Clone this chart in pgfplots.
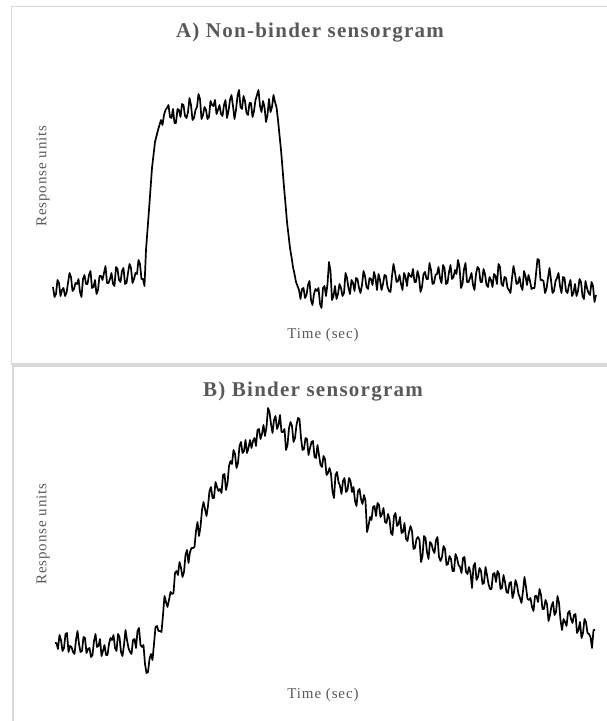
\documentclass[border=0pt]{standalone}
\usepackage{fontspec}
\setmainfont{Liberation Serif}[LetterSpace=6]
\usepackage{pgfplots}
\pgfplotsset{compat=1.18}
\definecolor{titlegray}{HTML}{595959}
\definecolor{framegray}{HTML}{D9D9D9}
\newcommand\titlefont{\bfseries\fontsize{21}{24}\selectfont}
\newcommand\labelfont{\fontsize{15}{18}\selectfont}
\begin{document}
\begin{tikzpicture}
\path[use as bounding box] (0pt,0pt) rectangle (607pt,721pt);
% ---------------- Panel A ----------------
\begin{axis}[at={(0pt,357pt)}, anchor=south west, scale only axis,
  width=607pt, height=364pt, xmin=0, xmax=607, ymin=-64, ymax=300,
  axis lines=none, ticks=none, clip=false]
\draw[framegray, line width=1.2pt] (axis cs:660,293.5) -- (axis cs:11.5,293.5) -- (axis cs:11.5,-64) -- (axis cs:660,-64);
\node[text=titlegray, font=\titlefont] at (axis cs:310,267) {A) Non-binder sensorgram};
\node[text=titlegray, font=\labelfont, rotate=90] at (axis cs:43,124) {Response units};
\node[text=titlegray, font=\labelfont] at (axis cs:323,-35) {Time (sec)};
\addplot[black, line width=1.7pt, line join=round] coordinates {
(53,13)(54.5,3)(56,6)(57.5,20)(59,17)(60.5,4)(62,10)(63.5,12)(65,4)(66.5,7)(68,17)(69.5,27)(71,23)(72.5,9)(74,11)(75.5,17)(77,16)(78.5,21)(80,8)(81.5,3)(83,21)(84.5,25)(86,16)(87.5,16)(89,25)(90.5,29)(92,12)(93.5,13)(95,20)(96.5,6)(98,10)(99.5,24)(101,24)(102.5,20)(104,27)(105.5,34)(107,17)(108.5,17)(110,21)(111.5,27)(113,16)(114.5,14)(116,33)(117.5,31)(119,20)(120.5,18)(122,29)(123.5,32)(125,16)(126.5,17)(128,27)(129.5,36)(131,32)(132.5,17)(134,21)(135.5,27)(137,26)(138.5,40)(140,36)(141.5,21)(143,21)(144.5,14)
(146,50)(147.5,70)(149,90)(150.5,111)(152,132)(153.5,145)(155,158)(156.5,164)(158,170)(159.5,175)(161,180)(162.5,175)
(164,185)(165.5,190)(167,192)(168.5,195)(170,183)(171.5,182)(173,191)(174.5,177)(176,177)(177.5,191)(179,190)(180.5,183)(182,196)(183.5,195)(185,184)(186.5,182)(188,188)(189.5,202)(191,195)(192.5,180)(194,182)(195.5,190)(197,193)(198.5,206)(200,201)(201.5,181)(203,185)(204.5,193)(206,190)(207.5,181)(209,183)(210.5,199)(212,195)(213.5,194)(215,200)(216.5,186)(218,190)(219.5,195)(221,186)(222.5,184)(224,195)(225.5,200)(227,182)(228.5,189)(230,200)(231.5,205)(233,194)(234.5,181)(236,190)(237.5,204)(239,210)(240.5,193)(242,191)(243.5,204)(245,199)(246.5,187)(248,185)(249.5,197)(251,197)(252.5,183)(254,189)(255.5,200)(257,205)(258.5,210)(260,194)(261.5,188)(263,199)(264.5,193)(266,178)(267.5,185)(269,201)(270.5,188)(272,193)(273.5,205)(275,198)(276.5,193)
(278,180)(279.5,165)(281,150)(282.5,132)(284,113)(285.5,96)(287,78)(288.5,65)(290,52)(291.5,43)(293,33)(294.5,26)(296,18)(297.5,14)
(299,10)(300.5,1)(302,11)(303.5,12)(305,2)(306.5,5)(308,15)(309.5,19)(311,0)(312.5,-5)(314,6)(315.5,11)(317,9)(318.5,12)(320,-4)(321.5,-8)(323,12)(324.5,14)(326,4)(327.5,16)(329,38)(330.5,29)(332,0)(333.5,4)(335,14)(336.5,1)(338,6)(339.5,16)(341,12)(342.5,4)(344,7)(345.5,27)(347,22)(348.5,12)(350,6)(351.5,20)
(353,17)(354.5,9)(356,22)(357.5,21)(359,12)(360.5,7)(362,15)(363.5,29)(365,24)(366.5,13)(368,11)(369.5,22)(371,21)(372.5,15)(374,28)(375.5,22)(377,10)(378.5,26)(380,20)(381.5,10)(383,16)(384.5,25)(386,24)(387.5,13)(389,9)(390.5,8)(392,24)(393.5,36)(395,28)(396.5,18)(398,19)(399.5,25)(401,16)(402.5,10)(404,27)(405.5,23)(407,14)(408.5,27)(410,24)(411.5,23)(413,31)(414.5,18)(416,18)(417.5,29)(419,23)(420.5,8)(422,13)(423.5,26)(425,28)(426.5,21)(428,21)(429.5,37)(431,30)(432.5,16)(434,17)(435.5,25)(437,26)(438.5,33)(440,22)(441.5,17)(443,35)(444.5,32)(446,16)(447.5,17)(449,28)(450.5,35)(452,21)(453.5,23)(455,30)(456.5,26)(458,40)(459.5,33)(461,12)(462.5,16)(464,31)(465.5,37)(467,18)(468.5,18)(470,22)(471.5,27)
(473,15)(474.5,10)(476,26)(477.5,33)(479,31)(480.5,18)(482,18)(483.5,31)(485,26)(486.5,15)(488,13)(489.5,23)(491,20)(492.5,13)(494,26)(495.5,24)(497,16)(498.5,36)(500,33)(501.5,16)(503,14)(504.5,23)(506,22)(507.5,12)(509,10)(510.5,7)(512,22)(513.5,34)(515,26)(516.5,16)(518,17)(519.5,23)(521,14)(522.5,10)(524,29)(525.5,24)(527,15)(528.5,25)(530,19)(531.5,11)(533,12)(534.5,12)(536,26)(537.5,41)(539,40)(540.5,20)(542,20)(543.5,19)(545,7)(546.5,11)(548,22)(549.5,32)(551,20)(552.5,7)(554,9)(555.5,19)(557,22)(558.5,27)(560,14)(561.5,7)(563,23)(564.5,22)(566,9)(567.5,7)(569,15)(570.5,20)(572,4)(573.5,7)(575,16)(576.5,4)(578,9)(579.5,21)(581,18)(582.5,4)(584,1)(585.5,19)(587,12)(588.5,7)(590,5)(591.5,18)(593,14)(594.5,-2)(596,5)
};
\end{axis}
% ---------------- Panel B ----------------
\begin{axis}[at={(0pt,0pt)}, anchor=south west, scale only axis,
  width=607pt, height=357pt, xmin=0, xmax=607, ymin=-71, ymax=286,
  axis lines=none, ticks=none, clip=false]
\draw[framegray, line width=1.2pt] (axis cs:660,284) -- (axis cs:13,284) -- (axis cs:13,-100);
\node[text=titlegray, font=\titlefont] at (axis cs:313,258) {B) Binder sensorgram};
\node[text=titlegray, font=\labelfont, rotate=90] at (axis cs:43,116) {Response units};
\node[text=titlegray, font=\labelfont] at (axis cs:323,-45) {Time (sec)};
\addplot[black, line width=1.7pt, line join=round] coordinates {
(55,7)(56.5,7)(58,1)(59.5,15)(61,10)(62.5,-1)(64,2)(65.5,16)(67,17)(68.5,-2)(70,4)(71.5,3)(73,-2)(74.5,-4)(76,10)(77.5,19)(79,6)(80.5,-2)(82,-1)(83.5,13)(85,12)(86.5,-3)(88,1)(89.5,2)(91,-7)(92.5,-5)(94,9)(95.5,16)(97,3)(98.5,4)(100,11)(101.5,-6)(103,-1)(104.5,5)(106,-5)(107.5,-5)(109,6)(110.5,12)(112,10)(113.5,15)(115,2)(116.5,-1)(118,16)(119.5,13)(121,-2)(122.5,-6)(124,5)(125.5,20)(127,10)(128.5,2)(130,-2)(131.5,-4)(133,10)(134.5,11)(136,2)(137.5,19)(139,22)(140.5,5)(142,3)(143.5,5)
(145,-14)(146.5,-23)(148,-22)(149.5,-9)(151,-4)(152.5,-10)(154,6)(155.5,23)(157,24)(158.5,19)(160,19)(161.5,18)(163,35)(164.5,54)(166,48)(167.5,43)(169,50)(170.5,58)(172,56)(173.5,57)(175,77)(176.5,79)(178,75)(179.5,88)(181,82)(182.5,73)(184,78)(185.5,95)(187,100)(188.5,87)(190,98)(191.5,102)(193,102)(194.5,103)(196,119)(197.5,128)(199,114)(200.5,123)(202,140)(203.5,148)(205,141)(206.5,134)(208,144)(209.5,159)(211,163)(212.5,152)(214,152)(215.5,168)(217,163)(218.5,159)(220,161)(221.5,157)(223,175)(224.5,176)(226,160)(227.5,167)(229,184)(230.5,189)(232,186)(233.5,200)(235,196)(236.5,182)(238,187)(239.5,204)(241,208)(242.5,197)(244,199)(245.5,210)(247,197)(248.5,202)(250,210)(251.5,202)(253,209)(254.5,212)(256,204)(257.5,220)(259,221)(260.5,211)(262,216)(263.5,225)(265,214)(266.5,223)
(268,242)(269.5,238)(271,226)(272.5,217)(274,230)(275.5,234)(277,221)(278.5,225)(280,235)(281.5,218)(283,218)(284.5,221)(286,200)(287.5,205)(289,222)(290.5,228)(292,224)(293.5,208)(295,212)(296.5,225)(298,232)(299.5,231)(301,212)(302.5,200)(304,201)(305.5,212)(307,211)(308.5,195)(310,202)(311.5,208)(313,209)(314.5,193)(316,192)(317.5,205)(319,195)(320.5,185)(322,183)(323.5,194)(325,191)(326.5,175)(328,177)(329.5,182)(331,176)(332.5,158)(334,152)(335.5,175)(337,178)(338.5,168)(340,164)(341.5,156)(343,169)(344.5,172)(346,158)(347.5,160)(349,172)(350.5,169)(352,158)(353.5,163)(355,149)(356.5,144)(358,159)(359.5,161)(361,151)(362.5,146)(364,155)(365.5,149)(367,118)(368.5,124)(370,133)(371.5,130)
(373,143)(374.5,144)(376,134)(377.5,147)(379,145)(380.5,133)(382,136)(383.5,142)(385,128)(386.5,127)(388,136)(389.5,131)(391,117)(392.5,115)(394,134)(395.5,137)(397,124)(398.5,126)(400,133)(401.5,117)(403,118)(404.5,127)(406,111)(407.5,109)(409,118)(410.5,124)(412,119)(413.5,101)(415,102)(416.5,111)(418,113)(419.5,110)(421,88)(422.5,94)(424,114)(425.5,112)(427,98)(428.5,91)(430,108)(431.5,106)(433,100)(434.5,97)(436,110)(437.5,113)(439,93)(440.5,89)(442,93)(443.5,104)(445,101)(446.5,85)(448,86)(449.5,94)(451,91)(452.5,79)(454,79)(455.5,96)(457,92)(458.5,85)(460,83)(461.5,77)(463,92)(464.5,93)(466,78)(467.5,76)(469,83)(470.5,77)(472,62)(473.5,84)
(475,87)(476.5,70)(478,73)(479.5,82)(481,79)(482.5,66)(484,67)(485.5,83)(487,75)(488.5,66)(490,61)(491.5,61)(493,76)(494.5,77)(496,68)(497.5,79)(499,76)(500.5,61)(502,62)(503.5,75)(505,68)(506.5,58)(508,57)(509.5,67)(511,68)(512.5,52)(514,58)(515.5,70)(517,65)(518.5,56)(520,52)(521.5,47)(523,59)(524.5,73)(526,63)(527.5,51)(529,50)(530.5,52)(532,43)(533.5,39)(535,54)(536.5,54)(538,48)(539.5,61)(541,55)(542.5,41)(544,41)(545.5,50)(547,46)(548.5,29)(550,35)(551.5,44)(553,48)(554.5,35)(556,38)(557.5,54)(559,47)(560.5,30)(562,20)(563.5,31)(565,28)(566.5,24)(568,37)(569.5,39)(571,31)(572.5,27)(574,35)(575.5,36)(577,17)(578.5,20)(580,28)(581.5,12)(583,17)(584.5,31)(586,28)(587.5,17)(589,16)(590.5,13)(592,2)(593.5,20)(595,20)
};
\end{axis}
\end{tikzpicture}
\end{document}
